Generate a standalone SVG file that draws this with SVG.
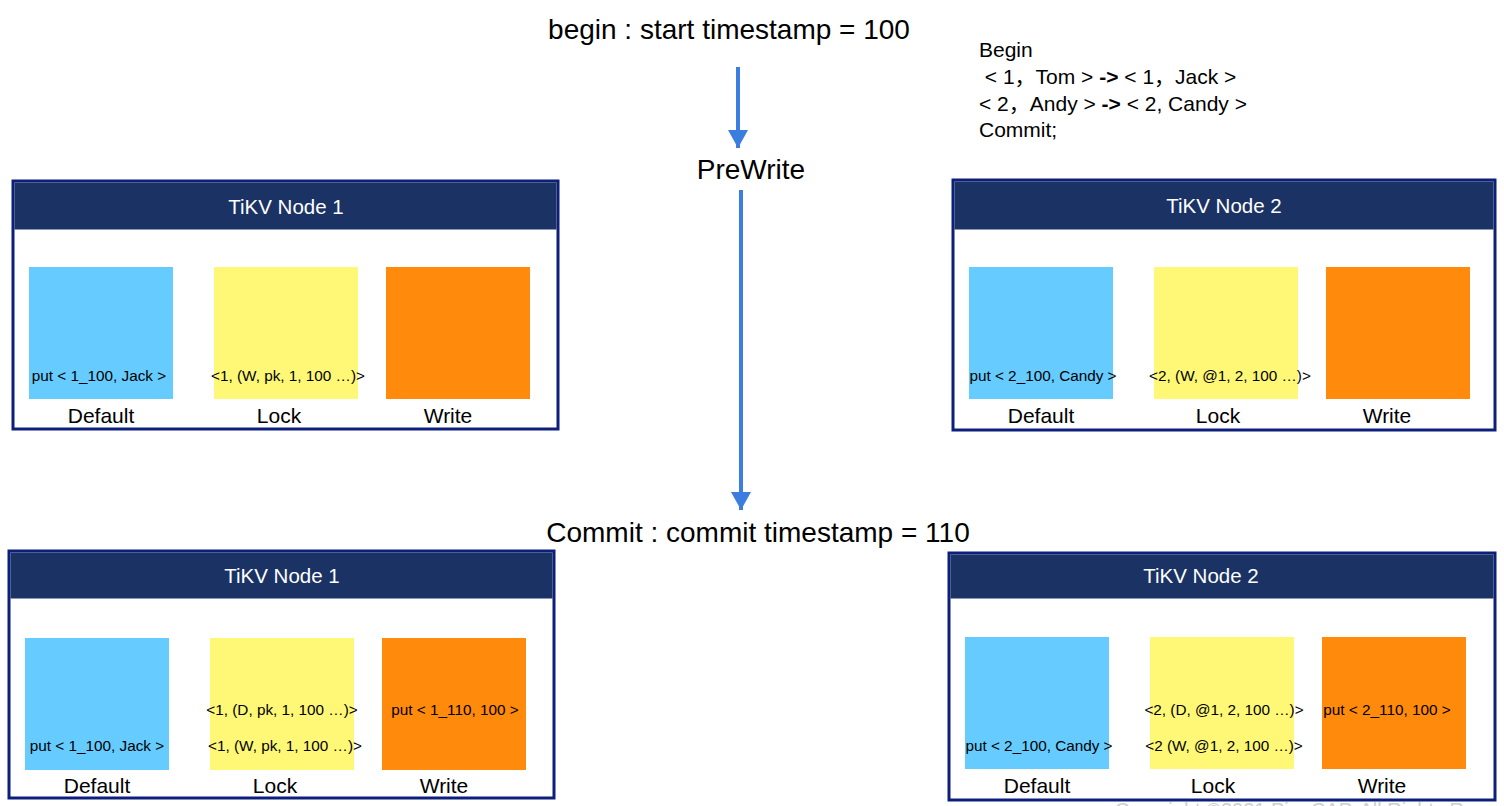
<svg xmlns="http://www.w3.org/2000/svg" width="1504" height="806" viewBox="0 0 1504 806">
<defs>
<style>
text{font-family:"Liberation Sans",Arial,"Noto Sans CJK SC",sans-serif;fill:#000}
.title{font-size:28px;text-anchor:middle}
.code{font-size:21px}
.frame{fill:#fff;stroke:#0c1f7c;stroke-width:3}
.head{fill:#1a3264}
.htxt{font-size:20.5px;fill:#fff;text-anchor:middle}
.def{fill:#66ccff}
.lock{fill:#fff877}
.wr{fill:#ff8a0c}
.lbl{font-size:21px;text-anchor:middle}
.in{font-size:15.3px;text-anchor:middle}
.arr{stroke:#3c7de0;stroke-width:4;fill:none}
.copy{font-size:20px;fill:#cfcfcf}
</style>
<marker id="ah" markerWidth="5" markerHeight="5" refX="4.5" refY="2.5" orient="auto" markerUnits="strokeWidth">
<path d="M0,0 L4.5,2.5 L0,5 Z" fill="#3c7de0"/>
</marker>
</defs>
<rect width="1504" height="806" fill="#fff"/>

<g id="titles">
<text class="title" x="729" y="39">begin : start timestamp = 100</text>
<text class="title" x="751" y="179">PreWrite</text>
<text class="title" x="758" y="542">Commit : commit timestamp = 110</text>
</g>

<g id="code">
<text class="code" x="979" y="57">Begin</text>
<text class="code" x="979" y="84" xml:space="preserve"> &lt; 1，Tom &gt; <tspan font-weight="bold">-&gt;</tspan> &lt; 1，Jack &gt;</text>
<text class="code" x="979" y="111" xml:space="preserve">&lt; 2，Andy &gt; <tspan font-weight="bold">-&gt;</tspan> &lt; 2, Candy &gt;</text>
<text class="code" x="979" y="137">Commit;</text>
</g>

<g id="connectors">
<line class="arr" x1="738" y1="67" x2="738" y2="148" marker-end="url(#ah)"/>
<line class="arr" x1="741" y1="190" x2="741" y2="510" marker-end="url(#ah)"/>
</g>

<g id="node1-prewrite">
<rect class="frame" x="13" y="181" width="545" height="248"/>
<rect class="head" x="14.5" y="182.5" width="542" height="47"/>
<text class="htxt" x="286" y="214">TiKV Node 1</text>
<rect class="def" x="29" y="267" width="144" height="132"/>
<rect class="lock" x="214" y="267" width="144" height="132"/>
<rect class="wr" x="386" y="267" width="144" height="132"/>
<text class="in" x="99" y="381">put &lt; 1_100, Jack &gt;</text>
<text class="in" x="288" y="381">&lt;1, (W, pk, 1, 100 …)&gt;</text>
<text class="lbl" x="101" y="423">Default</text>
<text class="lbl" x="279" y="423">Lock</text>
<text class="lbl" x="448" y="423">Write</text>
</g>

<g id="node2-prewrite">
<rect class="frame" x="953" y="180" width="542" height="250"/>
<rect class="head" x="954.5" y="181.5" width="539" height="48"/>
<text class="htxt" x="1224" y="213">TiKV Node 2</text>
<rect class="def" x="969" y="267" width="144" height="132"/>
<rect class="lock" x="1154" y="267" width="144" height="132"/>
<rect class="wr" x="1326" y="267" width="144" height="132"/>
<text class="in" x="1043" y="381">put &lt; 2_100, Candy &gt;</text>
<text class="in" x="1230" y="381">&lt;2, (W, @1, 2, 100 …)&gt;</text>
<text class="lbl" x="1041" y="423">Default</text>
<text class="lbl" x="1218" y="423">Lock</text>
<text class="lbl" x="1387" y="423">Write</text>
</g>

<g id="node1-commit">
<rect class="frame" x="9" y="551" width="545" height="247"/>
<rect class="head" x="10.5" y="552.5" width="542" height="46"/>
<text class="htxt" x="282" y="583">TiKV Node 1</text>
<rect class="def" x="25" y="638" width="144" height="132"/>
<rect class="lock" x="210" y="638" width="144" height="132"/>
<rect class="wr" x="382" y="638" width="144" height="132"/>
<text class="in" x="282" y="715">&lt;1, (D, pk, 1, 100 …)&gt;</text>
<text class="in" x="285" y="751">&lt;1, (W, pk, 1, 100 …)&gt;</text>
<text class="in" x="455" y="715">put &lt; 1_110, 100 &gt;</text>
<text class="in" x="97" y="751">put &lt; 1_100, Jack &gt;</text>
<text class="lbl" x="97" y="793">Default</text>
<text class="lbl" x="275" y="793">Lock</text>
<text class="lbl" x="444" y="793">Write</text>
</g>

<g id="node2-commit">
<rect class="frame" x="949" y="553" width="546" height="247"/>
<rect class="head" x="950.5" y="554.5" width="543" height="44"/>
<text class="htxt" x="1201" y="583">TiKV Node 2</text>
<rect class="def" x="965" y="637" width="144" height="132"/>
<rect class="lock" x="1150" y="637" width="144" height="132"/>
<rect class="wr" x="1322" y="637" width="144" height="132"/>
<text class="in" x="1224" y="715">&lt;2, (D, @1, 2, 100 …)&gt;</text>
<text class="in" x="1224" y="751">&lt;2 (W, @1, 2, 100 …)&gt;</text>
<text class="in" x="1387" y="715">put &lt; 2_110, 100 &gt;</text>
<text class="in" x="1039" y="751">put &lt; 2_100, Candy &gt;</text>
<text class="lbl" x="1037" y="793">Default</text>
<text class="lbl" x="1213" y="793">Lock</text>
<text class="lbl" x="1382" y="793">Write</text>
</g>

<text class="copy" x="1115" y="817">Copyright ©2021 PingCAP. All Rights Reserved.</text>
</svg>
